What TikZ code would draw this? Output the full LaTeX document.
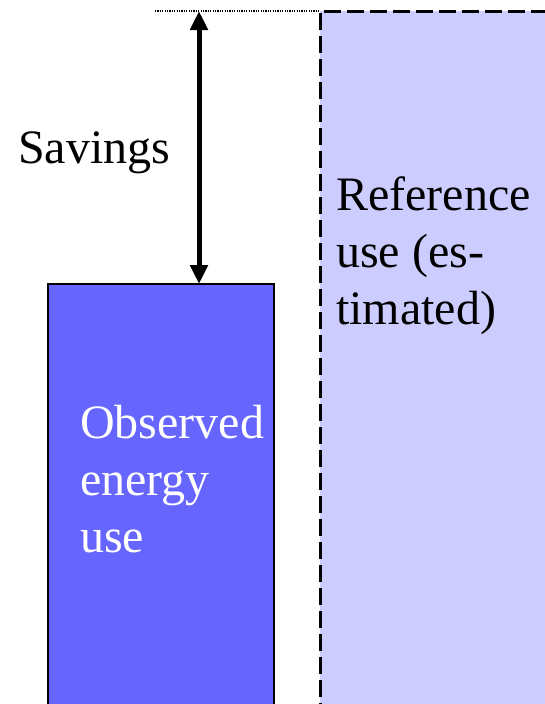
\documentclass[tikz,border=0pt]{standalone}
\usepackage{fontspec}
\setmainfont{Liberation Serif}
\usetikzlibrary{arrows.meta}

\tikzset{
  bigtext/.style={anchor=north west,align=left,inner sep=0pt,
    font=\fontsize{48}{57}\selectfont},
  refbox/.style={fill={rgb,255:red,204;green,204;blue,255}},
  obsbox/.style={fill={rgb,255:red,102;green,102;blue,255},draw=black,line width=2.5pt}
}

\begin{document}
\begin{tikzpicture}[x=1pt,y=-1pt]
\useasboundingbox (0,0) rectangle (545,704);
% estimated reference use, open at the right and at the bottom
\fill[refbox] (320,11) rectangle (560,720);
\draw[line width=3pt,dash pattern=on 17pt off 6pt] (320,720)--(320,11)--(560,11);
\draw[line width=1.4pt,dash pattern=on 1.2pt off 1.2pt] (155,11)--(320,11);
% observed use
\draw[obsbox] (48,720)--(48,284)--(274,284)--(274,720);
\coordinate (top) at (199,11);
\coordinate (obs) at (199,284);
\draw[line width=5pt,{Triangle[length=19pt,width=17pt]}-{Triangle[length=19pt,width=17pt]}] (top)--(obs);
% labels
\node[bigtext] (savings) at (18,132) {Savings};
\node[bigtext] (ref) at (336,176) {Reference\\use (es-\\timated)};
\node[bigtext,text=white] (observed) at (80,405) {Observed\\energy\\use};
\end{tikzpicture}
\end{document}
